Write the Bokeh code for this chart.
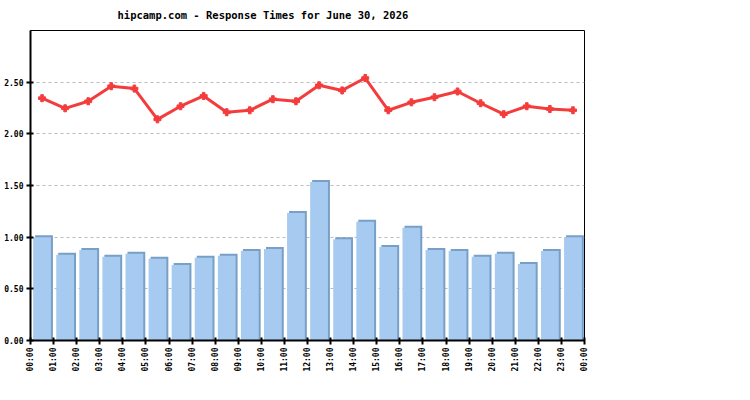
from bokeh.plotting import figure
from bokeh.models import FixedTicker, Range1d, ColumnDataSource
from bokeh.embed import file_html
from bokeh.resources import INLINE
import math

title_text = "hipcamp.com - Response Times for June 30, 2026"
tick_labels = ["00:00", "01:00", "02:00", "03:00", "04:00", "05:00", "06:00", "07:00",
               "08:00", "09:00", "10:00", "11:00", "12:00", "13:00", "14:00", "15:00",
               "16:00", "17:00", "18:00", "19:00", "20:00", "21:00", "22:00", "23:00", "00:00"]
hours = list(range(24))
bar_values = [1.00, 0.83, 0.875, 0.81, 0.84, 0.79, 0.73, 0.80, 0.82, 0.865, 0.885, 1.235,
              1.535, 0.98, 1.15, 0.905, 1.09, 0.875, 0.865, 0.81, 0.84, 0.74, 0.865, 1.00]
line_values = [2.345, 2.247, 2.315, 2.461, 2.438, 2.14, 2.267, 2.367, 2.209, 2.228, 2.335, 2.315,
               2.47, 2.42, 2.54, 2.228, 2.305, 2.354, 2.41, 2.296, 2.19, 2.267, 2.24, 2.228]
y_ticks = [0.0, 0.5, 1.0, 1.5, 2.0, 2.5]

FONT = "DejaVu Sans Mono"

p = figure(width=742, height=392, output_backend="svg", toolbar_location=None,
           x_range=Range1d(0, 24), y_range=Range1d(0, 3.0),
           min_border_left=30, min_border_right=158, min_border_top=30, min_border_bottom=52,
           title=title_text)

p.title.text_font = FONT
p.title.text_font_size = "10.5px"
p.title.text_font_style = "bold"
p.title.align = "left"
p.title.offset = 87
p.title.standoff = 15
p.title.vertical_align = "top"
p.title.text_color = "#000000"

centers = [h + 0.5 for h in hours]
dx = 2.0 / 23.08
dy = 2.0 / 103.3
src = ColumnDataSource(dict(
    x=centers,
    xs=[c + dx for c in centers],
    top=bar_values,
    tops=[v + dy for v in bar_values],
    line=line_values,
))

p.vbar(x="xs", top="tops", bottom=0, width=0.77, source=src,
       fill_color="#789fc6", line_color=None)
p.vbar(x="x", top="top", bottom=0, width=0.77, source=src,
       fill_color="#a7cbf0", line_color=None)

p.line(x="x", y="line", source=src, line_color="#f43c3c", line_width=3)
p.scatter(x="x", y="line", source=src, marker="plus", size=7,
          fill_color="#f43c3c", line_color="#f43c3c")

# axes
p.xaxis.ticker = FixedTicker(ticks=list(range(25)))
p.xaxis.major_label_overrides = {i: lab for i, lab in enumerate(tick_labels)}
p.xaxis.major_label_orientation = math.pi / 2
p.yaxis.ticker = FixedTicker(ticks=y_ticks)
p.yaxis.major_label_overrides = {t: "%.2f" % t for t in y_ticks}

for ax in (p.xaxis, p.yaxis):
    ax.major_label_text_font = FONT
    ax.major_label_text_font_size = "8px"
    ax.major_label_text_font_style = "bold"
    ax.major_label_text_color = "#000000"
    ax.axis_line_color = "#000000"
    ax.axis_line_width = 2
    ax.major_tick_line_color = "#000000"
    ax.major_tick_line_width = 2
    ax.major_tick_in = 3
    ax.major_tick_out = 4
    ax.minor_tick_line_color = None
    ax.major_label_standoff = 3

p.xgrid.grid_line_color = None
p.ygrid.grid_line_color = "#bbbbbb"
p.ygrid.grid_line_dash = "3 3"
p.ygrid.grid_line_width = 1

p.outline_line_color = "#000000"
p.outline_line_width = 1
p.background_fill_color = "#ffffff"
p.border_fill_color = "#ffffff"

open("out.html", "w").write(file_html(p, INLINE))
